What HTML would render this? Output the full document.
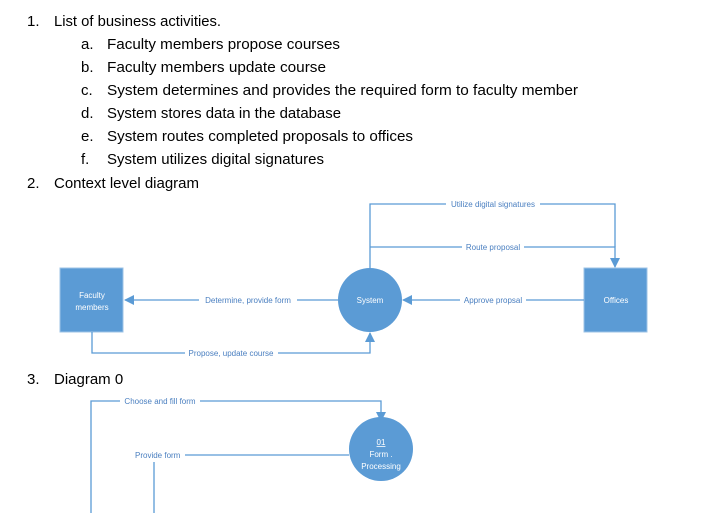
<!DOCTYPE html>
<html><head><style>
html,body{margin:0;padding:0;background:#fff;}
svg{display:block;}
.t{font-family:"Liberation Sans",sans-serif;font-size:15px;fill:#000;}
.s{font-family:"Liberation Sans",sans-serif;font-size:8px;fill:#4a7fc0;}
.w{font-family:"Liberation Sans",sans-serif;font-size:8px;fill:#fff;}
.l{stroke:#5b9bd5;stroke-width:1.3;fill:none;}
</style></head><body>
<svg width="723" height="513" viewBox="0 0 723 513" xmlns="http://www.w3.org/2000/svg">
<defs><marker id="a" markerWidth="10" markerHeight="10" refX="9" refY="5" orient="auto" markerUnits="userSpaceOnUse"><path d="M0,0 L10,5 L0,10 z" fill="#5b9bd5"/></marker></defs>
<text class="t" x="27" y="26">1.</text><text class="t" x="54" y="26" textLength="167" lengthAdjust="spacingAndGlyphs">List of business activities.</text>
<text class="t" x="81" y="49">a.</text><text class="t" x="107" y="49" textLength="233" lengthAdjust="spacingAndGlyphs">Faculty  members propose courses</text>
<text class="t" x="81" y="72">b.</text><text class="t" x="107" y="72" textLength="219" lengthAdjust="spacingAndGlyphs">Faculty  members update course</text>
<text class="t" x="81" y="95">c.</text><text class="t" x="107" y="95" textLength="471" lengthAdjust="spacingAndGlyphs">System determines and provides the required form to faculty member</text>
<text class="t" x="81" y="118">d.</text><text class="t" x="107" y="118" textLength="234" lengthAdjust="spacingAndGlyphs">System stores data in the database</text>
<text class="t" x="81" y="141">e.</text><text class="t" x="107" y="141" textLength="306" lengthAdjust="spacingAndGlyphs">System routes completed proposals to offices</text>
<text class="t" x="81" y="164">f.</text><text class="t" x="107" y="164" textLength="217" lengthAdjust="spacingAndGlyphs">System utilizes digital signatures</text>
<text class="t" x="27" y="188">2.</text><text class="t" x="54" y="188" textLength="145" lengthAdjust="spacingAndGlyphs">Context level diagram</text>
<text class="t" x="27" y="384">3.</text><text class="t" x="54" y="384">Diagram 0</text>

<!-- context -->
<rect x="60" y="268" width="63" height="64" fill="#5b9bd5" stroke="#9dc3e6" stroke-width="1"/>
<text class="w" x="92" y="298" text-anchor="middle">Faculty</text>
<text class="w" x="92" y="310" text-anchor="middle">members</text>
<circle cx="370" cy="300" r="32" fill="#5b9bd5"/>
<text class="w" x="370" y="303" text-anchor="middle">System</text>
<rect x="584" y="268" width="63" height="64" fill="#5b9bd5" stroke="#9dc3e6" stroke-width="1"/>
<text class="w" x="616" y="303" text-anchor="middle">Offices</text>

<path class="l" d="M370,268 V204 H615 V247"/>
<path class="l" d="M370,247 H615 V267" marker-end="url(#a)"/>
<path class="l" d="M338,300 H125" marker-end="url(#a)"/>
<path class="l" d="M584,300 H403" marker-end="url(#a)"/>
<path class="l" d="M92,332 V353 H370 V333" marker-end="url(#a)"/>
<rect x="446" y="199" width="94" height="10" fill="#fff"/><text class="s" x="493" y="207" text-anchor="middle">Utilize digital signatures</text>
<rect x="462" y="242" width="62" height="10" fill="#fff"/><text class="s" x="493" y="250" text-anchor="middle">Route proposal</text>
<rect x="199" y="295" width="98" height="10" fill="#fff"/><text class="s" x="248" y="303" text-anchor="middle">Determine, provide form</text>
<rect x="460" y="295" width="66" height="10" fill="#fff"/><text class="s" x="493" y="303" text-anchor="middle">Approve propsal</text>
<rect x="185" y="348" width="93" height="10" fill="#fff"/><text class="s" x="231" y="356" text-anchor="middle">Propose, update course</text>

<!-- diagram 0 -->
<path class="l" d="M91,513 V401 H381 V421" marker-end="url(#a)"/>
<rect x="120" y="396" width="80" height="10" fill="#fff"/><text class="s" x="160" y="404" text-anchor="middle">Choose and fill form</text>
<circle cx="381" cy="449" r="32" fill="#5b9bd5"/>
<text class="w" x="381" y="445" text-anchor="middle" text-decoration="underline">01</text>
<text class="w" x="381" y="457" text-anchor="middle">Form .</text>
<text class="w" x="381" y="469" text-anchor="middle">Processing</text>
<path class="l" d="M349,455 H185"/>
<text class="s" x="135" y="458">Provide form</text>
<path class="l" d="M154,462 V513"/>
</svg>
</body></html>
